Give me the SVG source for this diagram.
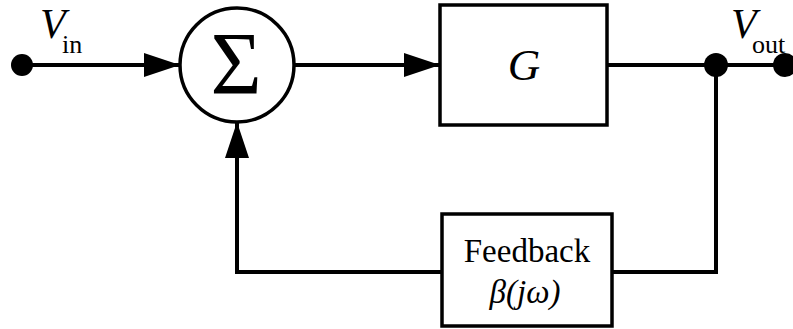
<svg xmlns="http://www.w3.org/2000/svg" width="793" height="329" viewBox="0 0 793 329">
<defs>
<marker id="arr" viewBox="0 0 36 24" refX="36" refY="12" markerWidth="36" markerHeight="24" markerUnits="userSpaceOnUse" orient="auto">
<path d="M0,0 L36,12 L0,24 Z" fill="#000"/>
</marker>
</defs>
<style>
.w{stroke:#000;stroke-width:4;fill:none}
.b{stroke:#000;stroke-width:3.5;fill:#fff}
text{fill:#000}
</style>
<rect width="793" height="329" fill="#fff"/>
<g id="connectors">
<line class="w" x1="22" y1="65" x2="180" y2="65" marker-end="url(#arr)"/>
<line class="w" x1="294" y1="65" x2="440" y2="65" marker-end="url(#arr)"/>
<line class="w" x1="607" y1="65" x2="785" y2="65"/>
<polyline class="w" points="716,65 716,272 612,272"/>
<polyline class="w" points="442,272 237,272 237,122" marker-end="url(#arr)"/>
</g>
<g font-family="Liberation Serif, Times New Roman, serif">
<g id="vin">
<circle cx="22" cy="65" r="11" fill="#000"/>
<text x="40" y="38" font-size="42" font-style="italic">V</text>
<text x="62" y="53" font-size="26">in</text>
</g>
<g id="sum">
<circle class="b" cx="237" cy="65" r="57"/>
<text x="236" y="93" font-size="88" text-anchor="middle">Σ</text>
</g>
<g id="G">
<rect class="b" x="440" y="5" width="167" height="120"/>
<text x="524" y="80" font-size="45" font-style="italic" text-anchor="middle">G</text>
</g>
<g id="node">
<circle cx="716" cy="65" r="12" fill="#000"/>
</g>
<g id="vout">
<circle cx="785" cy="65" r="12" fill="#000"/>
<text x="731" y="38" font-size="42" font-style="italic">V</text>
<text x="752" y="53" font-size="26">out</text>
</g>
<g id="feedback">
<rect class="b" x="442" y="214" width="170" height="112"/>
<text x="527" y="262" font-size="33" text-anchor="middle">Feedback</text>
<text x="525" y="303" font-size="33" font-style="italic" text-anchor="middle">β(jω)</text>
</g>
</g>
</svg>
